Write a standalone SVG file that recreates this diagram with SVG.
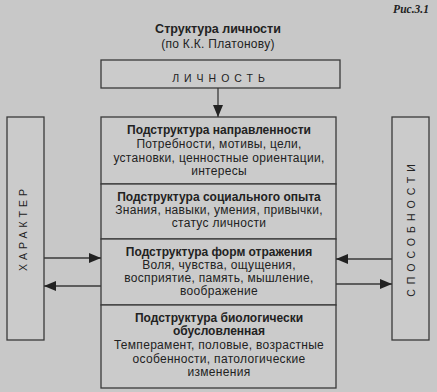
<svg xmlns="http://www.w3.org/2000/svg" width="437" height="392" viewBox="0 0 437 392">
<style>
.bg{fill:#c8c8c8}
.box{fill:#cbcbcb;stroke:#3a3a3a;stroke-width:1.3}
.ln{stroke:#3a3a3a;stroke-width:1.3;fill:none}
text{font-family:"Liberation Sans",Arial,sans-serif;fill:#222;text-anchor:middle}
.t{font-size:12.5px;font-weight:bold}
.b{font-size:12px;letter-spacing:0.3px}
.h{font-size:12px;font-weight:bold}
.sp{font-size:10.5px;letter-spacing:4px}
</style>
<defs>
<marker id="ah" viewBox="0 0 12 10" refX="12" refY="5" markerWidth="12" markerHeight="10" markerUnits="userSpaceOnUse" orient="auto">
<path d="M0,0 L12,5 L0,10 z" fill="#222"/>
</marker>
</defs>
<rect class="bg" x="0" y="0" width="437" height="392"/>
<text x="411" y="13" style="font-family:'Liberation Serif',serif;font-weight:bold;font-style:italic;font-size:11.5px">Рис.3.1</text>
<text class="t" x="218" y="33">Структура личности</text>
<text class="b" x="218" y="48">(по К.К. Платонову)</text>
<g id="lichnost">
<rect class="box" x="101" y="60" width="239" height="28"/>
<text class="sp" x="221" y="82" style="letter-spacing:5px">ЛИЧНОСТЬ</text>
</g>
<g id="harakter">
<rect class="box" x="7" y="117" width="37" height="223"/>
<text class="sp" transform="translate(27,228) rotate(-90)" x="0" y="0">ХАРАКТЕР</text>
</g>
<g id="sposobnosti">
<rect class="box" x="392" y="117" width="37" height="223"/>
<text class="sp" transform="translate(415,228) rotate(-90)" x="0" y="0" style="letter-spacing:5px">СПОСОБНОСТИ</text>
</g>
<g id="napravlennost">
<rect class="box" x="101" y="117" width="235" height="67"/>
<text class="h" x="219" y="134">Подструктура направленности</text>
<text class="b" x="219" y="148">Потребности, мотивы, цели,</text>
<text class="b" x="219" y="162">установки, ценностные ориентации,</text>
<text class="b" x="219" y="175">интересы</text>
</g>
<g id="opyt">
<rect class="box" x="101" y="184" width="235" height="55"/>
<text class="h" x="219" y="201">Подструктура социального опыта</text>
<text class="b" x="219" y="214">Знания, навыки, умения, привычки,</text>
<text class="b" x="219" y="227">статус личности</text>
</g>
<g id="otrazhenie">
<rect class="box" x="101" y="239" width="235" height="66"/>
<text class="h" x="219" y="256">Подструктура форм отражения</text>
<text class="b" x="219" y="269">Воля, чувства, ощущения,</text>
<text class="b" x="219" y="282">восприятие, память, мышление,</text>
<text class="b" x="219" y="295">воображение</text>
</g>
<g id="bio">
<rect class="box" x="101" y="305" width="235" height="83"/>
<text class="h" x="219" y="322">Подструктура биологически</text>
<text class="h" x="219" y="335">обусловленная</text>
<text class="b" x="219" y="349">Темперамент, половые, возрастные</text>
<text class="b" x="219" y="363">особенности, патологические</text>
<text class="b" x="219" y="376">изменения</text>
</g>
<g id="connectors">
<line class="ln" x1="218" y1="88" x2="218" y2="117" marker-end="url(#ah)"/>
<line class="ln" x1="44" y1="258" x2="101" y2="258" marker-end="url(#ah)"/>
<line class="ln" x1="101" y1="286" x2="44" y2="286" marker-end="url(#ah)"/>
<line class="ln" x1="392" y1="259" x2="336" y2="259" marker-end="url(#ah)"/>
<line class="ln" x1="336" y1="284" x2="392" y2="284" marker-end="url(#ah)"/>
</g>
</svg>
